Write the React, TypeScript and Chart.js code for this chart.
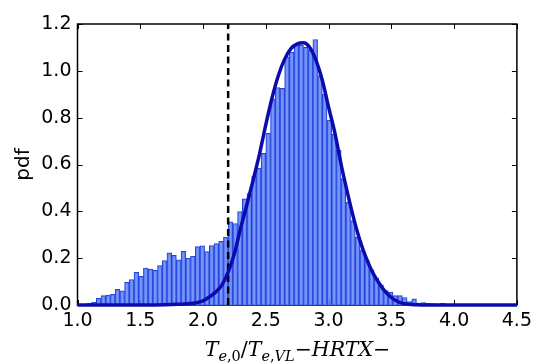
import React, { useEffect, useRef } from 'react';
import { Chart, registerables } from 'chart.js';

Chart.register(...registerables);

// Histogram definition (bin edges start at BIN_START, constant width)
const BIN_START = 1.0;
const BIN_WIDTH = 0.0375;
const pdfValues = [
  0.003, 0.004, 0.007, 0.011, 0.029, 0.040, 0.042, 0.046, 0.067, 0.061,
  0.097, 0.109, 0.140, 0.122, 0.158, 0.153, 0.148, 0.168, 0.190, 0.223,
  0.212, 0.193, 0.229, 0.200, 0.208, 0.249, 0.253, 0.228, 0.254, 0.262,
  0.272, 0.290, 0.355, 0.348, 0.399, 0.453, 0.476, 0.549, 0.585, 0.648,
  0.733, 0.880, 0.929, 0.925, 1.060, 1.080, 1.110, 1.110, 1.100, 1.090,
  1.134, 0.980, 0.900, 0.790, 0.730, 0.660, 0.540, 0.440, 0.360, 0.290,
  0.235, 0.190, 0.150, 0.115, 0.085, 0.062, 0.055, 0.040, 0.040, 0.032,
  0.015, 0.026, 0.008, 0.010, 0.007, 0.006, 0.004, 0.007, 0.003, 0.002,
];

// Fitted curve
const fitX = [
  1.0, 1.5, 1.7, 1.8, 1.9, 2.0, 2.05, 2.1, 2.15, 2.2, 2.25, 2.3, 2.35, 2.4,
  2.45, 2.5, 2.55, 2.6, 2.65, 2.7, 2.75, 2.8, 2.85, 2.9, 2.95, 3.0, 3.05,
  3.1, 3.15, 3.2, 3.25, 3.3, 3.35, 3.4, 3.45, 3.5, 3.55, 3.6, 3.7, 3.8, 4.0,
  4.5,
];
const fitY = [
  0, 0, 0.001, 0.003, 0.006, 0.018, 0.034, 0.055, 0.085, 0.14, 0.22, 0.33,
  0.43, 0.535, 0.645, 0.77, 0.885, 0.98, 1.05, 1.095, 1.115, 1.12, 1.1,
  1.045, 0.96, 0.845, 0.735, 0.6, 0.48, 0.37, 0.275, 0.2, 0.14, 0.095,
  0.058, 0.032, 0.015, 0.006, 0.001, 0, 0, 0,
];

const thresholdX = 2.2;
const xTicks = [1.0, 1.5, 2.0, 2.5, 3.0, 3.5, 4.0, 4.5];
const yTicks = [0.0, 0.2, 0.4, 0.6, 0.8, 1.0, 1.2];
const yTitle = 'pdf';
const MAIN = 'px "DejaVu Serif"';
const xTitleParts: { t: string; font: string; sub: boolean }[] = [
  { t: 'T', font: 'italic 20.5' + MAIN, sub: false },
  { t: 'e', font: 'italic 14.5' + MAIN, sub: true },
  { t: ',0', font: '14.5' + MAIN, sub: true },
  { t: '/', font: '20.5' + MAIN, sub: false },
  { t: 'T', font: 'italic 20.5' + MAIN, sub: false },
  { t: 'e', font: 'italic 14.5' + MAIN, sub: true },
  { t: ',', font: '14.5' + MAIN, sub: true },
  { t: 'VL', font: 'italic 14.5' + MAIN, sub: true },
  { t: '\u2212', font: '20.5' + MAIN, sub: false },
  { t: 'HRTX', font: 'italic 20.5' + MAIN, sub: false },
  { t: '\u2212', font: '20.5' + MAIN, sub: false },
];

const framePlugin = {
  id: 'frameTicks',
  beforeDatasetsDraw(chart: any) {
    const { ctx, chartArea: a, scales } = chart;
    ctx.save();
    ctx.strokeStyle = '#000';
    ctx.lineWidth = 1;
    const L = 5;
    ctx.beginPath();
    xTicks.forEach((v) => {
      const px = Math.round(scales.x.getPixelForValue(v)) + 0.5;
      ctx.moveTo(px, a.bottom);
      ctx.lineTo(px, a.bottom - L);
      ctx.moveTo(px, a.top);
      ctx.lineTo(px, a.top + L);
    });
    yTicks.forEach((v) => {
      const py = Math.round(scales.y.getPixelForValue(v)) + 0.5;
      ctx.moveTo(a.left, py);
      ctx.lineTo(a.left + L, py);
      ctx.moveTo(a.right, py);
      ctx.lineTo(a.right - L, py);
    });
    ctx.stroke();
    ctx.lineWidth = 1.5;
    ctx.strokeRect(a.left, a.top, a.right - a.left, a.bottom - a.top);
    ctx.restore();
  },
  afterDraw(chart: any) {
    const { ctx } = chart;
    ctx.save();
    ctx.fillStyle = '#000';
    ctx.textBaseline = 'alphabetic';
    let total = 0;
    xTitleParts.forEach((p) => {
      ctx.font = p.font;
      total += ctx.measureText(p.t).width;
    });
    let x = 297.5 - total / 2;
    const base = 356;
    xTitleParts.forEach((p) => {
      ctx.font = p.font;
      ctx.fillText(p.t, x, p.sub ? base + 5 : base);
      x += ctx.measureText(p.t).width;
    });
    ctx.restore();
  },
};

export default function App() {
  const ref = useRef<HTMLCanvasElement | null>(null);
  useEffect(() => {
    if (!ref.current) return;
    const tickFont = { family: '"DejaVu Sans"', size: 19 };
    const chart = new Chart(ref.current, {
      type: 'bar',
      data: {
        datasets: [
          {
            type: 'line',
            data: fitX.map((x, i) => ({ x, y: fitY[i] })),
            borderColor: '#0c0cae',
            borderWidth: 3.5,
            pointRadius: 0,
            cubicInterpolationMode: 'monotone',
            clip: false,
            order: 0,
          } as any,
          {
            type: 'line',
            data: [
              { x: thresholdX, y: 0 },
              { x: thresholdX, y: 1.2 },
            ],
            borderColor: '#000',
            borderWidth: 2.5,
            borderDash: [7, 4.5],
            pointRadius: 0,
            order: 1,
          } as any,
          {
            type: 'bar',
            data: pdfValues.map((v, i) => ({ x: BIN_START + (i + 0.5) * BIN_WIDTH, y: v })),
            backgroundColor: 'rgba(100,130,245,0.85)',
            borderColor: '#1f45e0',
            borderWidth: 1,
            barPercentage: 1,
            categoryPercentage: 1,
            order: 2,
          } as any,
        ],
      },
      options: {
        animation: false,
        responsive: false,
        devicePixelRatio: 1,
        layout: { padding: { top: 24, right: 17, left: 0, bottom: 0 } },
        plugins: { legend: { display: false }, tooltip: { enabled: false } },
        scales: {
          x: {
            type: 'linear',
            min: 1.0,
            max: 4.5,
            offset: false,
            afterBuildTicks: (s: any) => {
              s.ticks = xTicks.map((value) => ({ value }));
            },
            afterFit: (s: any) => {
              s.height = 59;
            },
            ticks: {
              autoSkip: false,
              maxRotation: 0,
              padding: 5,
              color: '#000',
              font: tickFont,
              callback: (v: any) => Number(v).toFixed(1),
            },
            grid: { display: false, drawTicks: false },
            border: { display: false },
          },
          y: {
            type: 'linear',
            min: 0,
            max: 1.2,
            afterBuildTicks: (s: any) => {
              s.ticks = yTicks.map((value) => ({ value }));
            },
            afterFit: (s: any) => {
              s.width = 77.5;
            },
            ticks: {
              autoSkip: false,
              padding: 6,
              color: '#000',
              font: tickFont,
              callback: (v: any) => Number(v).toFixed(1),
            },
            grid: { display: false, drawTicks: false },
            border: { display: false },
            title: {
              display: true,
              text: yTitle,
              color: '#000',
              font: { family: '"DejaVu Sans"', size: 20 },
              padding: { top: 12, bottom: 0 },
            },
          },
        },
      } as any,
      plugins: [framePlugin],
    });
    return () => chart.destroy();
  }, []);
  return (
    <div style={{ position: 'fixed', left: 0, top: 0, width: 537, height: 364, background: '#fff' }}>
      <canvas ref={ref} width={537} height={364} style={{ width: 537, height: 364 }} />
    </div>
  );
}
